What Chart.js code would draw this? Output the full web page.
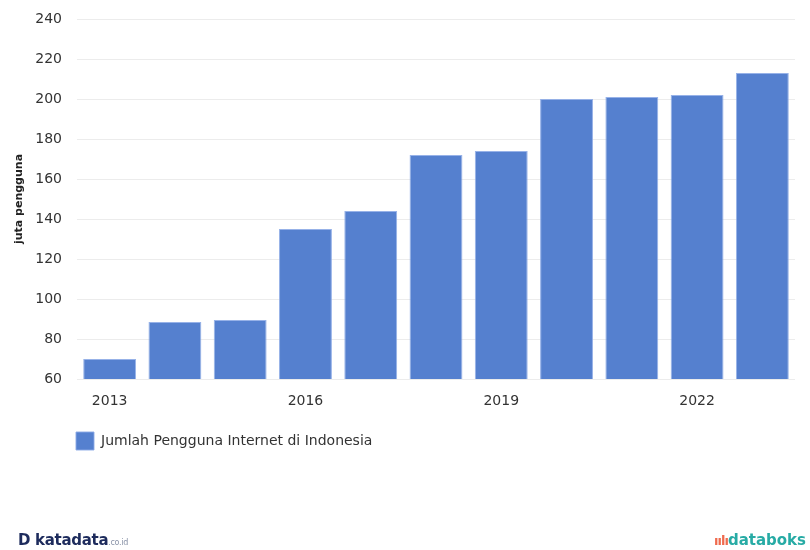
<!DOCTYPE html>
<html>
<head>
<meta charset="utf-8">
<script src="https://cdn.jsdelivr.net/npm/chart.js@4"></script>
<style>
  body { margin: 0; background: #fff; }
  #wrap { position: relative; width: 810px; height: 550px; }
  #logoKiri { position: absolute; left: 18px; top: 531px; font-family: "DejaVu Sans", sans-serif; font-weight: bold; font-size: 15px; color: #1d2b5c; letter-spacing: -0.3px; }
  #logoKiri small { font-size: 8px; font-weight: normal; color: #8a93a8; }
  #logoKanan { position: absolute; right: 4px; top: 531px; font-family: "DejaVu Sans", sans-serif; font-weight: bold; font-size: 15px; color: #27aba5; }
  #logoKanan span { color: #ef6b4e; font-size: 13px; letter-spacing: -1px; }
</style>
</head>
<body>
<div id="wrap">
  <canvas id="chart1" width="810" height="550"></canvas>
  <div id="logoKiri">D katadata<small>.co.id</small></div>
  <div id="logoKanan"><span>ıılı</span>databoks</div>
</div>
<script>
// data jumlah pengguna internet (juta)
var tahun = ["2013", "2014", "2015", "2016", "2017", "2018", "2019", "2020", "2021", "2022", "2023"];
var pengguna = [70, 88.5, 89.5, 135, 144, 172, 174, 200, 201, 202, 213];
var judulSeri = "Jumlah Pengguna Internet di Indonesia";
var judulY = "juta pengguna";

var chart1 = document.getElementById("chart1");

// legend digeser supaya sejajar dengan area grafik
var geserLegend = {
  id: "geserLegend",
  afterLayout: function (chart) {
    chart.legend.left = chart.chartArea.left - 14;
  }
};

var data = {
  labels: tahun,
  datasets: [{
    label: judulSeri,
    data: pengguna,
    backgroundColor: "rgb(85, 128, 207)",
    borderColor: "rgba(140, 170, 230, 0.9)",
    borderWidth: 1,
    categoryPercentage: 0.81,
    barPercentage: 1
  }]
};

new Chart(chart1, {
  type: "bar",
  data: data,
  plugins: [geserLegend],
  options: {
    responsive: false,
    animation: false,
    layout: { padding: { top: 19, right: 15, bottom: 90, left: 5 } },
    plugins: {
      tooltip: { enabled: false },
      legend: {
        position: "bottom",
        align: "start",
        labels: {
          boxWidth: 18,
          boxHeight: 18,
          padding: 13,
          color: "#333",
          font: { family: "DejaVu Sans", size: 14 }
        }
      }
    },
    scales: {
      x: {
        afterFit: function (scale) { scale.height = 40; },
        grid: { display: false },
        border: { display: false },
        ticks: {
          color: "#333",
          padding: 6,
          maxRotation: 0,
          autoSkip: false,
          font: { family: "DejaVu Sans", size: 14 },
          callback: function (v, i) { return i % 3 == 0 ? tahun[i] : ""; }
        }
      },
      y: {
        min: 60,
        max: 240,
        afterFit: function (scale) {
          scale.width = 72;
          scale.paddingTop = 0;
          scale.paddingBottom = 0;
        },
        grid: { color: "#ececec", drawTicks: false },
        border: { display: false },
        ticks: {
          stepSize: 20,
          color: "#333",
          padding: 15,
          font: { family: "DejaVu Sans", size: 14 }
        },
        title: {
          display: true,
          text: judulY,
          color: "#222",
          padding: 8,
          font: { family: "DejaVu Sans", size: 11, weight: "bold" }
        }
      }
    }
  }
});
</script>
</body>
</html>
